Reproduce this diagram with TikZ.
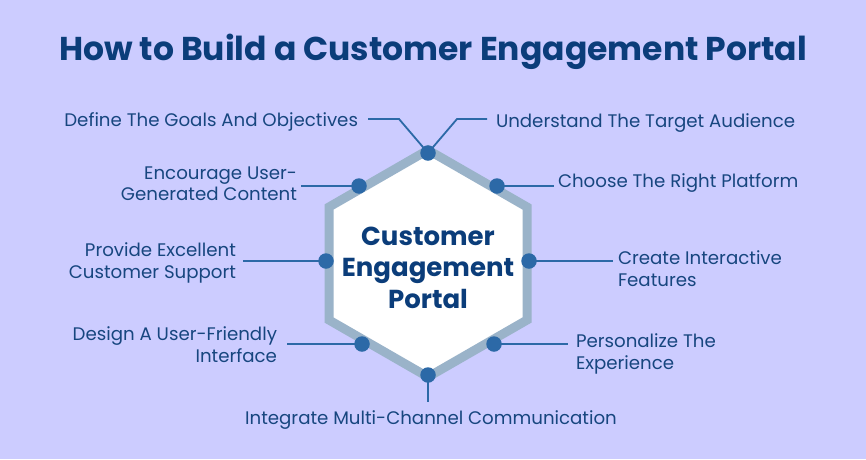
\documentclass[tikz,border=0pt]{standalone}
\usepackage{fontspec}
\setmainfont{Poppins}
\definecolor{bgc}{HTML}{CCCCFF}
\definecolor{titlec}{HTML}{0B3D7A}
\definecolor{labc}{HTML}{17467F}
\definecolor{dotc}{HTML}{2C69A7}
\definecolor{hexc}{HTML}{9AB3C9}
\tikzset{
  lab/.style={inner sep=0pt, outer sep=0pt, text=labc, font=\fontsize{18.2}{21.6}\selectfont},
  lead/.style={draw=dotc, line width=1.8pt},
  dotnode/.style={circle, fill=dotc, inner sep=0pt, minimum size=15.5pt},
  hexborder/.style={draw=hexc, line width=9pt, fill=white, line join=miter},
}
\begin{document}
\begin{tikzpicture}[x=1pt,y=-1pt]
\fill[bgc] (0,0) rectangle (866,459);
\useasboundingbox (0,0) rectangle (866,459);

\node[inner sep=0pt, text=titlec, font=\fontsize{33}{38}\selectfont\bfseries, anchor=base] (title) at (433,60.5) {How to Build a Customer Engagement Portal};

\draw[hexborder] (428,150) -- (527,207) -- (527,320) -- (428,377) -- (329,320) -- (329,207) -- cycle;
\node[inner sep=0pt, text=titlec, align=center, font=\fontsize{26}{31.6}\selectfont\bfseries, anchor=base] (core) at (428,308.3) {Customer\\Engagement\\Portal};

% dot positions
\coordinate (p1) at (428,153);
\coordinate (p2) at (359,186);
\coordinate (p3) at (497,186);
\coordinate (p4) at (326,261);
\coordinate (p5) at (529,261);
\coordinate (p6) at (362,344);
\coordinate (p7) at (494,344);
\coordinate (p8) at (428,375);
\coordinate (b1) at (399,119);
\coordinate (b2) at (457,119);

% labels (base anchor = baseline of the last line)
\node[lab, anchor=base east] (l1) at (358,126) {Define The Goals And Objectives};
\node[lab, anchor=base west] (l2) at (496,127.5) {Understand The Target Audience};
\node[lab, anchor=base east, align=right] (l3) at (297,200.7) {Encourage User-\\Generated Content};
\node[lab, anchor=base west] (l4) at (558,187) {Choose The Right Platform};
\node[lab, anchor=base east, align=right] (l5) at (236,278) {Provide Excellent\\Customer Support};
\node[lab, anchor=base west, align=left] (l6) at (618,286) {Create Interactive\\Features};
\node[lab, anchor=base east, align=right] (l7) at (277,362.3) {Design A User-Friendly\\Interface};
\node[lab, anchor=base west, align=left] (l8) at (576,369.3) {Personalize The\\Experience};
\node[lab, anchor=base] (l9) at (431,424.3) {Integrate Multi-Channel Communication};

% connectors
\draw[lead] (p1) -- (b1) -- ([xshift=10pt]b1 -| l1.east);
\draw[lead] (p1) -- (b2) -- ([xshift=-9pt]b2 -| l2.west);
\draw[lead] (p2) -- ([xshift=4pt]p2 -| l3.east);
\draw[lead] (p3) -- ([xshift=-4pt]p3 -| l4.west);
\draw[lead] (p4) -- ([xshift=7pt]p4 -| l5.east);
\draw[lead] (p5) -- ([xshift=-5pt]p5 -| l6.west);
\draw[lead] (p6) -- ([xshift=10pt]p6 -| l7.east);
\draw[lead] (p7) -- ([xshift=-8pt]p7 -| l8.west);
\draw[lead] (p8) -- ([yshift=8.5pt]p8 |- l9.north);

% dots
\foreach \p/\n in {p1/d1,p2/d2,p3/d3,p4/d4,p5/d5,p6/d6,p7/d7,p8/d8}
  \node[dotnode] (\n) at (\p) {};
\end{tikzpicture}
\end{document}
